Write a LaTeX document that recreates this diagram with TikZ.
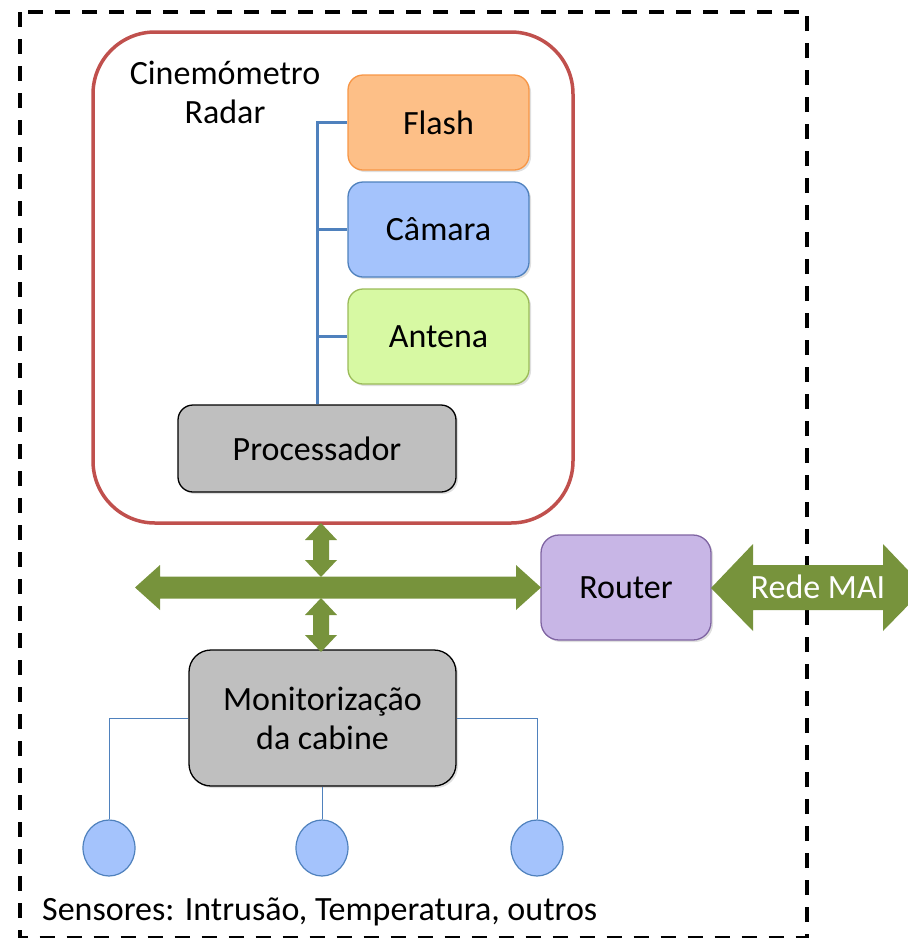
\documentclass[tikz,border=0pt]{standalone}
\usepackage{fontspec}
\setmainfont{Carlito}
\usetikzlibrary{shadows,shapes.geometric}
\definecolor{grn}{HTML}{77933C}
\definecolor{redb}{HTML}{C0504D}
\definecolor{flashf}{HTML}{FDBF87}
\definecolor{flashd}{HTML}{F79646}
\definecolor{camf}{HTML}{A4C3FC}
\definecolor{camd}{HTML}{4F81BD}
\definecolor{antf}{HTML}{D7F9A3}
\definecolor{antd}{HTML}{9BBB59}
\definecolor{grayf}{HTML}{BFBFBF}
\definecolor{purf}{HTML}{C8B6E6}
\definecolor{purd}{HTML}{7F64A2}
\tikzset{
  txt/.style={font=\fontsize{34}{39}\selectfont, align=center, inner sep=0pt},
  box/.style={txt, rectangle, rounded corners=15pt, line width=1.3pt,
    drop shadow={opacity=0.25, shadow xshift=2pt, shadow yshift=-2pt}},
  bus/.style={draw=camd, line width=3pt},
  wire/.style={draw=camd, line width=1pt},
  sensor/.style={ellipse, fill=camf, draw=camd, line width=1.2pt, minimum width=52pt, minimum height=56pt, inner sep=0pt},
  garrow/.style={fill=grn, draw=none},
}
\begin{document}
\begin{tikzpicture}[x=1pt,y=-1pt]
\useasboundingbox (0,0) rectangle (908,938);
% outer dashed frame
\draw[line width=3.8pt, dash pattern=on 15pt off 12pt] (20,12) rectangle (807,937.5);
% radar box
\node[draw=redb, line width=3.5pt, rounded corners=62pt, minimum width=480pt, minimum height=491pt, inner sep=0pt] (radar) at (333,277.5) {};
\node[txt] (rtitle) at (225,92) {Cinemómetro\\Radar};
% components
\node[box, fill=flashf, draw=flashd, minimum width=181pt, minimum height=95pt] (flash) at (438.5,122.5) {Flash};
\node[box, fill=camf, draw=camd, minimum width=181pt, minimum height=95pt] (cam) at (438.5,229.5) {Câmara};
\node[box, fill=antf, draw=antd, minimum width=181pt, minimum height=95pt] (ant) at (438.5,336.5) {Antena};
\node[box, fill=grayf, draw=black, minimum width=278pt, minimum height=87pt] (proc) at (317,448.5) {Processador};
\draw[bus] (proc.north) |- (flash.west);
\draw[bus] (proc.north) |- (cam.west);
\draw[bus] (proc.north) |- (ant.west);
% router
\node[box, fill=purf, draw=purd, rounded corners=18pt, minimum width=170pt, minimum height=105pt] (router) at (626,587.5) {Router};
% monitor
\node[box, fill=grayf, draw=black, rounded corners=22pt, minimum width=267pt, minimum height=136pt] (mon) at (322.5,718) {Monitorização\\da cabine};
% green arrows
\fill[garrow] (135,587.5) -- (160,565) -- (160,576.5) -- (516,576.5) -- (516,565) -- (541,587.5) -- (516,610) -- (516,598.5) -- (160,598.5) -- (160,610) -- cycle;
\fill[garrow] (321,523) -- (337,540) -- (329,540) -- (329,560) -- (337,560) -- (321,577) -- (305,560) -- (313,560) -- (313,540) -- (305,540) -- cycle;
\fill[garrow] (321,598) -- (337,615) -- (329,615) -- (329,635) -- (337,635) -- (321,652) -- (305,635) -- (313,635) -- (313,615) -- (305,615) -- cycle;
\fill[garrow] (711,588) -- (753,544) -- (753,565) -- (883,565) -- (883,544) -- (925,588) -- (883,631) -- (883,610) -- (753,610) -- (753,631) -- cycle;
\node[txt, text=white] (mai) at (818,587) {Rede MAI};
% sensors
\node[sensor] (s1) at (109,848) {};
\node[sensor] (s2) at (322,848) {};
\node[sensor] (s3) at (537,848) {};
\draw[wire] (mon.west) -| (s1.north);
\draw[wire] (mon.south -| s2.north) -- (s2.north);
\draw[wire] (mon.east) -| (s3.north);
\node[txt, anchor=west] (slabel) at (42,912) {Sensores: Intrusão, Temperatura, outros};
\end{tikzpicture}
\end{document}
